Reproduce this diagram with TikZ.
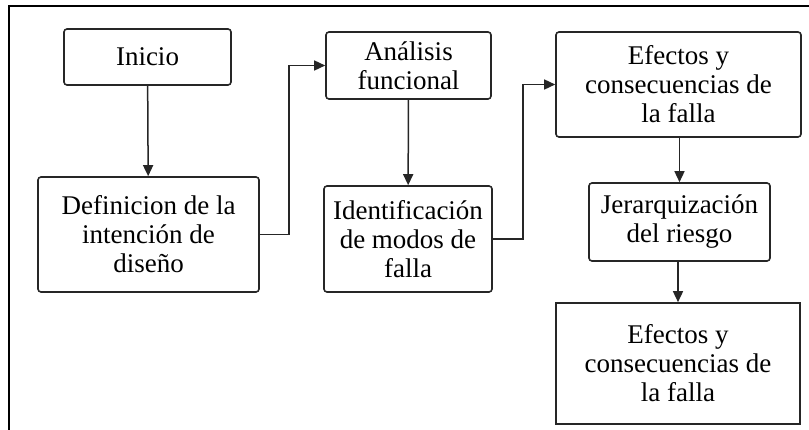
\documentclass[tikz,border=0pt]{standalone}
\usepackage{fontspec}
\setmainfont{Liberation Serif}
\usetikzlibrary{arrows.meta}
\begin{document}
\begin{tikzpicture}[x=1pt,y=-1pt,
  box/.style={draw=black!85, line width=1.6pt, rounded corners=3pt, align=center,
    inner sep=0pt, font=\fontsize{27}{29}\selectfont},
  sqbox/.style={box, rounded corners=0pt},
  conn/.style={line width=1.5pt, draw=black!85, -{Triangle[length=11pt,width=10pt]}},
  frameline/.style={line width=2pt}]
\useasboundingbox (0,0) rectangle (809,430);
\coordinate (ftl) at (9,6);
\coordinate (ftr) at (809,6);
\coordinate (fbl) at (9,430);
\draw[frameline] (ftr) -- (ftl) -- (fbl);

\node[box, minimum width=167pt, minimum height=56pt] (inicio) at (147.5,57) {Inicio};
\node[box, minimum width=221pt, minimum height=115pt] (def) at (148.5,234.5) {Definicion de la\\intención de\\diseño};
\node[box, minimum width=165pt, minimum height=67pt] (anal) at (408.5,65.5) {Análisis\\funcional};
\node[box, minimum width=168pt, minimum height=106pt] (ident) at (408,239) {Identificación\\de modos de\\falla};
\node[box, minimum width=245pt, minimum height=105pt] (efec) at (678.5,84.5) {Efectos y\\consecuencias de\\la falla};
\node[box, minimum width=181pt, minimum height=78pt] (jer) at (679.5,222) {Jerarquización\\del riesgo};
\node[sqbox, minimum width=244pt, minimum height=121pt] (efec2) at (678,363.5) {Efectos y\\consecuencias de\\la falla};

\draw[conn] (inicio) -- (def);
\draw[conn] (def.east) -- (289,234.5) |- (anal.west);
\draw[conn] (anal) -- (ident);
\draw[conn] (ident.east) -- (523,239) |- (efec.west);
\draw[conn] (efec.south -| jer.north) -- (jer.north);
\draw[conn] (jer.south -| efec2.north) -- (efec2.north);
\end{tikzpicture}
\end{document}
